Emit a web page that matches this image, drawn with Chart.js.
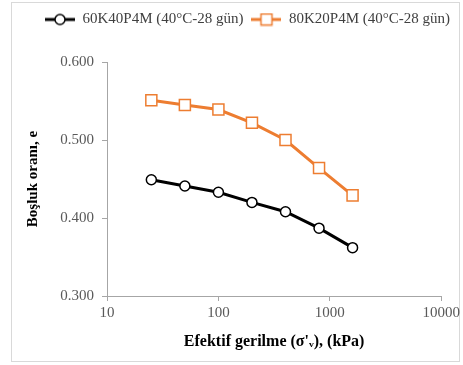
<!DOCTYPE html>
<html>
<head>
<meta charset="utf-8">
<script src="https://cdn.jsdelivr.net/npm/chart.js@4/dist/chart.umd.min.js"></script>
<style>
  body { margin: 0; background: #fff; }
  #wrap { width: 463px; height: 365px; position: relative; }
</style>
</head>
<body>
<div id="wrap"><canvas id="chart" width="463" height="365"></canvas></div>
<script>
// data
var stress = [25, 50, 100, 200, 400, 800, 1600];
var e60K40 = [0.449, 0.441, 0.433, 0.420, 0.408, 0.387, 0.362];
var e80K20 = [0.551, 0.545, 0.539, 0.522, 0.500, 0.464, 0.429];
var xTicks = [10, 100, 1000, 10000];
var seriesNames = ['60K40P4M (40°C-28 gün)', '80K20P4M (40°C-28 gün)'];

var ORANGE = '#ED7D31';
var AXIS = '#a6a6a6';
var SERIF = "'Liberation Serif', 'Times New Roman', serif";

function toPoints(ys) {
    return stress.map(function(x, i) { return { x: x, y: ys[i] }; });
}

// legend icon: short line with the marker on it
function legendIcon(color, shape) {
    var c = document.createElement('canvas');
    c.width = 30; c.height = 14;
    var ctx = c.getContext('2d');
    ctx.strokeStyle = color;
    ctx.lineWidth = 3;
    ctx.beginPath(); ctx.moveTo(0, 7); ctx.lineTo(30, 7); ctx.stroke();
    ctx.fillStyle = '#fff';
    ctx.lineWidth = 1.5;
    ctx.beginPath();
    if (shape == 'circle') ctx.arc(15, 7, 5, 0, Math.PI * 2);
    else ctx.rect(9.5, 1.5, 11, 11);
    ctx.fill(); ctx.stroke();
    return c;
}
var icons = [legendIcon('#000', 'circle'), legendIcon(ORANGE, 'rect')];

// light frame round the whole figure
var framePlugin = {
    id: 'frame',
    beforeDraw: function(chart) {
        var ctx = chart.ctx;
        ctx.save();
        ctx.strokeStyle = '#d9d9d9';
        ctx.lineWidth = 1;
        ctx.strokeRect(11.5, 2.5, 448, 359);
        ctx.restore();
    }
};

// more room under the legend
var legendGap = {
    id: 'legendGap',
    beforeInit: function(chart) {
        var fit = chart.legend.fit;
        chart.legend.fit = function() {
            fit.bind(chart.legend)();
            this.height += 25;
        };
    }
};

var chart = new Chart(document.getElementById('chart').getContext('2d'), {
    type: 'line',
    data: {
        datasets: [{
            label: seriesNames[0],
            data: toPoints(e60K40),
            borderColor: '#000',
            borderWidth: 3,
            pointStyle: 'circle',
            pointRadius: 5,
            pointBorderWidth: 1.5,
            pointBackgroundColor: '#fff',
            pointBorderColor: '#000'
        }, {
            label: seriesNames[1],
            data: toPoints(e80K20),
            borderColor: ORANGE,
            borderWidth: 3,
            pointStyle: 'rect',
            pointRadius: 7.8,
            pointBorderWidth: 1.5,
            pointBackgroundColor: '#fff',
            pointBorderColor: ORANGE
        }]
    },
    options: {
        responsive: false,
        animation: false,
        layout: { padding: { top: 4, left: 12, right: 5, bottom: 10 } },
        plugins: {
            tooltip: { enabled: false },
            legend: {
                position: 'top',
                align: 'end',
                labels: {
                    usePointStyle: true,
                    pointStyleWidth: 30,
                    boxHeight: 14,
                    color: '#404040',
                    font: { family: SERIF, size: 15 },
                    padding: 8,
                    generateLabels: function(ch) {
                        return ch.data.datasets.map(function(ds, i) {
                            return {
                                text: ds.label,
                                pointStyle: icons[i],
                                fontColor: '#404040',
                                datasetIndex: i,
                                hidden: false
                            };
                        });
                    }
                }
            }
        },
        scales: {
            x: {
                type: 'logarithmic',
                min: 10,
                max: 10000,
                afterBuildTicks: function(scale) {
                    scale.ticks = xTicks.map(function(v) { return { value: v }; });
                },
                afterFit: function(scale) { scale.height = 59; },
                ticks: {
                    color: '#595959',
                    font: { family: SERIF, size: 15 },
                    maxRotation: 0,
                    autoSkip: false,
                    padding: 3,
                    callback: function(v) { return String(v); }
                },
                grid: { drawOnChartArea: false, drawTicks: true, tickLength: 5, color: AXIS },
                border: { color: AXIS, width: 1 },
                title: {
                    display: true,
                    text: "Efektif gerilme (σ'ᵥ), (kPa)",
                    color: '#000',
                    font: { family: SERIF, size: 16, weight: 'bold' },
                    padding: { top: 6 }
                }
            },
            y: {
                min: 0.3,
                max: 0.6,
                afterFit: function(scale) { scale.width = 95; },
                ticks: {
                    stepSize: 0.1,
                    color: '#595959',
                    font: { family: SERIF, size: 15 },
                    padding: 8,
                    callback: function(v) { return v.toFixed(3); }
                },
                grid: { drawOnChartArea: false, drawTicks: true, tickLength: 5, color: AXIS },
                border: { color: AXIS, width: 1 },
                title: {
                    display: true,
                    text: 'Boşluk oranı, e',
                    color: '#000',
                    font: { family: SERIF, size: 15, weight: 'bold' },
                    padding: { top: 12, bottom: 8 }
                }
            }
        }
    },
    plugins: [framePlugin, legendGap]
});
</script>
</body>
</html>
